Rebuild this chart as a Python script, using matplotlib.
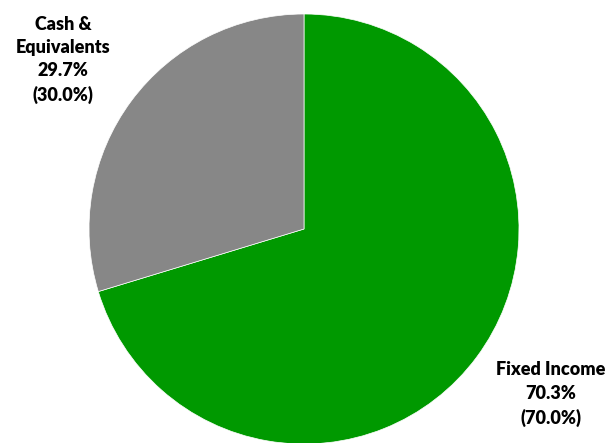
import matplotlib
matplotlib.use("Agg")
import matplotlib.pyplot as plt

categories = ["Fixed Income", "Cash &\nEquivalents"]
actual_pct = [70.3, 29.7]
target_pct = [70.0, 30.0]
colors = ["#009900", "#878787"]

W, H = 610, 443
fig = plt.figure(figsize=(W / 100, H / 100), dpi=100)
ax = fig.add_axes([0, 0, 1, 1])

cx, cy, r = 304, H - 229, 215
ax.pie(actual_pct, colors=colors, startangle=90, counterclock=False,
       center=(cx, cy), radius=r, frame=True,
       wedgeprops=dict(linewidth=0.5, edgecolor="white"))
ax.set_xlim(0, W)
ax.set_ylim(0, H)
ax.set_aspect("equal")
ax.axis("off")

label_pos = [(551, H - 394), (63, H - 60)]
for cat, a, t, (x, y) in zip(categories, actual_pct, target_pct, label_pos):
    ax.text(x, y, f"{cat}\n{a:.1f}%\n({t:.1f}%)", ha="center", va="center",
            fontsize=13, fontweight="heavy", family=["Lato", "DejaVu Sans"],
            linespacing=1.45, color="#000000")

fig.savefig("out.png", dpi=100)
